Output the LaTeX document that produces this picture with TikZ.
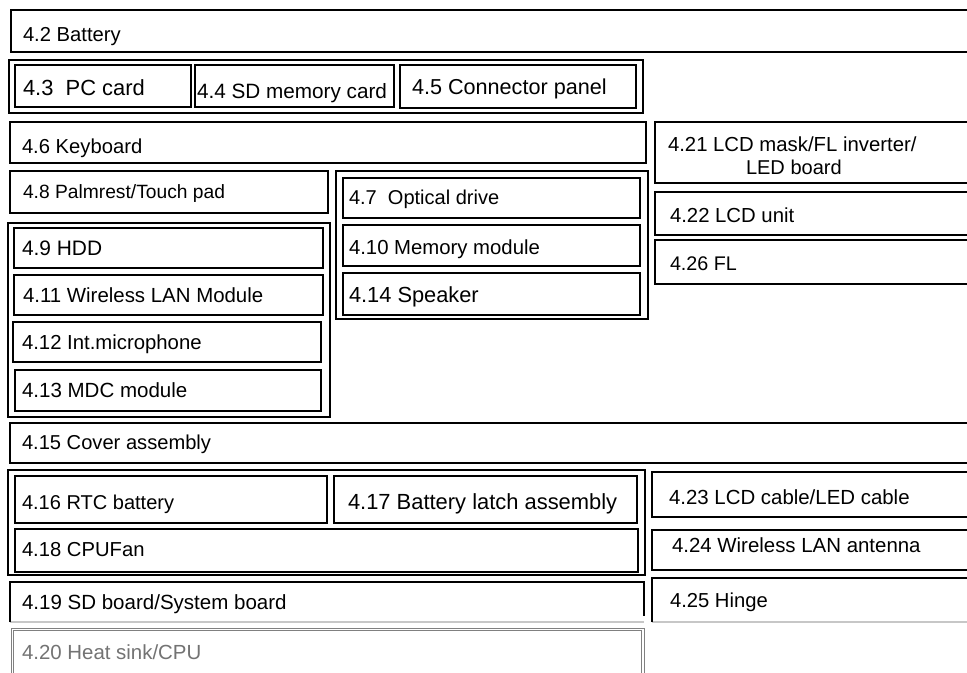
\documentclass[tikz,border=0pt]{standalone}
\usepackage{fontspec}
\setmainfont{Liberation Sans}
\usetikzlibrary{fit}
\tikzset{
  box/.style={draw=black, line width=1.8bp, inner sep=0pt, outer sep=0pt},
  openbox/.style={draw=none, inner sep=0pt, outer sep=0pt},
  edge/.style={draw=black, line width=1.8bp},
  faint/.style={draw=black!22, line width=1.4bp},
  ghostline/.style={draw=black!50, line width=0.7bp},
  lbl/.style={inner sep=0pt, outer sep=0pt, anchor=base west, text=black},
  glbl/.style={lbl, text=black!55}
}
\newcommand\bx[6][box]{\node[#1, fit={(#3,#4) (#5,#6)}] (#2) {};}
\newcommand\lbl[6][lbl]{\node[#1] (#2) at (#3,{#4+0.358*#5}) {\fontsize{#5}{#5}\selectfont #6};}
\begin{document}
\begin{tikzpicture}[x=1bp,y=-1bp]
\useasboundingbox (0,0) rectangle (967,673);
\fill[white] (0,0) rectangle (967,673);
\clip (0,0) rectangle (967,673);
% boxes
\bx{bat}{11}{10}{1000}{52}
\bx{g1}{9}{60}{643}{113}
\bx{pc}{15}{65}{191}{107}
\bx{sd}{195}{65}{394}{107}
\bx{conn}{400}{65}{636}{108}
\bx{kb}{10}{122}{646}{163}
\bx{palm}{10}{171}{328}{213}
\bx{g2}{8}{223}{330}{417}
\bx{hdd}{14}{228}{323}{268}
\bx{wlan}{14}{275}{323}{315}
\bx{mic}{13}{322}{321}{362}
\bx{mdc}{15}{370}{321}{411}
\bx{g3}{336}{171}{648}{319}
\bx{odd}{343}{178}{640}{218}
\bx{mem}{343}{225}{640}{266}
\bx{spk}{343}{273}{640}{315}
\bx{lcdmask}{655}{122}{1000}{183}
\bx{lcdunit}{655}{192}{1000}{235}
\bx{fl}{655}{240}{1000}{284}
\bx{cover}{10}{423}{1000}{463}
\bx{g4}{8}{470}{645}{575}
\bx{rtc}{15}{476}{327}{523}
\bx{latch}{334}{476}{637}{523}
\bx{fan}{15}{529}{638}{572}
\bx[openbox]{sysb}{10}{582}{644}{622}
\draw[faint] (sysb.south west) -- (sysb.south east);
\draw[edge] (sysb.south west) -- (sysb.north west) -- (sysb.north east) -- ([yshift=6bp]sysb.south east);
\bx[openbox]{heat}{11}{628}{644}{700}
\draw[ghostline] (heat.south west) -- (heat.north west) -- (heat.north east) -- (heat.south east);
\draw[ghostline] ([xshift=2.2bp,yshift=-2.2bp]heat.south west) -- ([xshift=2.2bp,yshift=-2.2bp]heat.north west) -- ([xshift=-2.2bp,yshift=-2.2bp]heat.north east) -- ([xshift=-2.2bp,yshift=-2.2bp]heat.south east);
\bx{lcdcable}{652}{472}{1000}{517}
\bx{antenna}{652}{530}{1000}{570}
\bx[openbox]{hinge}{652}{578}{1000}{622}
\draw[faint] (hinge.south west) -- (hinge.south east);
\draw[edge] (hinge.south west) -- (hinge.north west) -- (hinge.north east);
% labels
\lbl{tbat}{23}{34}{20.3}{4.2 Battery}
\lbl{tpc}{23}{88}{22}{4.3~ PC card}
\lbl{tsd}{197}{91}{20.8}{4.4 SD memory card}
\lbl{tconn}{412}{87}{21.7}{4.5 Connector panel}
\lbl{tkb}{22}{146}{20.3}{4.6 Keyboard}
\lbl{tpalm}{23}{192}{19.3}{4.8 Palmrest/Touch pad}
\lbl{thdd}{22}{248}{21}{4.9 HDD}
\lbl{twlan}{23}{295}{20.5}{4.11 Wireless LAN Module}
\lbl{tmic}{22}{342}{20.4}{4.12 Int.microphone}
\lbl{tmdc}{22}{390}{20.6}{4.13 MDC module}
\lbl{todd}{349}{197}{20.1}{4.7~ Optical drive}
\lbl{tmem}{349}{247}{20.4}{4.10 Memory module}
\lbl{tspk}{349}{295}{21.9}{4.14 Speaker}
\lbl{tlcdmask}{668}{144}{20.4}{4.21 LCD mask/FL inverter/}
\lbl{tled}{746}{167}{20.1}{LED board}
\lbl{tlcdunit}{670}{215}{20.4}{4.22 LCD unit}
\lbl{tfl}{670}{263}{19.8}{4.26 FL}
\lbl{tcover}{22}{442}{20.2}{4.15 Cover assembly}
\lbl{trtc}{22}{502}{20.1}{4.16 RTC battery}
\lbl{tlatch}{348}{502}{22}{4.17 Battery latch assembly}
\lbl{tfan}{22}{549}{20.3}{4.18 CPUFan}
\lbl{tsysb}{22}{602}{20.6}{4.19 SD board/System board}
\lbl[glbl]{theat}{22}{652}{20.5}{4.20 Heat sink/CPU}
\lbl{tlcdcable}{669}{497}{20.5}{4.23 LCD cable/LED cable}
\lbl{tantenna}{672}{545}{20.5}{4.24 Wireless LAN antenna}
\lbl{thinge}{670}{600}{20.3}{4.25 Hinge}
\end{tikzpicture}
\end{document}
